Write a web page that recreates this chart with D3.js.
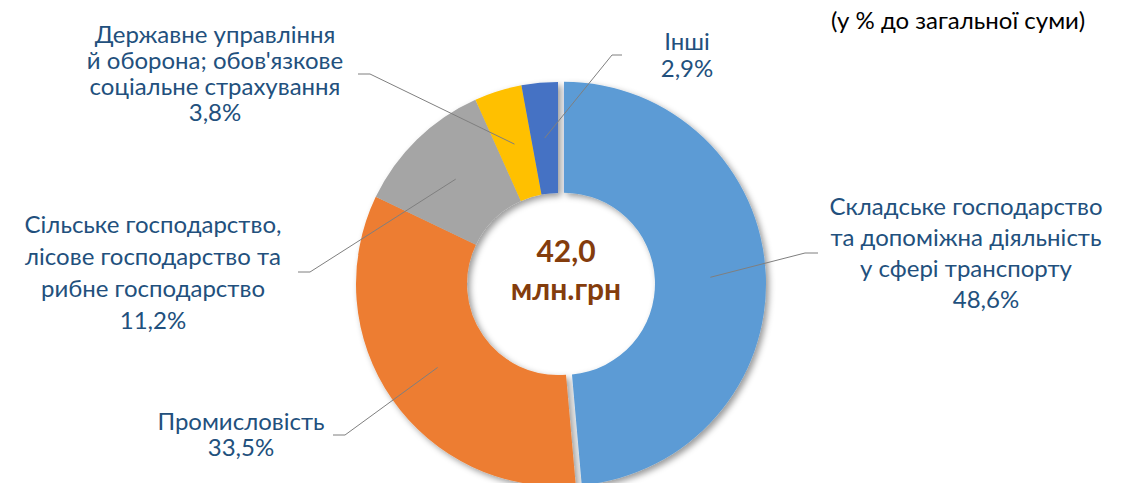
<!DOCTYPE html>
<html>
<head>
<meta charset="utf-8">
<script src="https://cdn.jsdelivr.net/npm/d3@7"></script>
<style>
  body { margin: 0; background: #fff; }
  svg { display: block; font-family: Lato, "Open Sans", sans-serif; }
</style>
</head>
<body>
<div id="chart"></div>
<script>
// Data
const categories = [
    "Складське господарство та допоміжна діяльність у сфері транспорту",
    "Промисловість",
    "Сільське господарство, лісове господарство та рибне господарство",
    "Державне управління й оборона; обов'язкове соціальне страхування",
    "Інші"
];
const shares = [48.6, 33.5, 11.2, 3.8, 2.9];
const valueLabels = ["48,6%", "33,5%", "11,2%", "3,8%", "2,9%"];
// label text split into lines as in the original
const labelLines = [
    ["Складське господарство", "та допоміжна діяльність", "у сфері транспорту"],
    ["Промисловість"],
    ["Сільське господарство,", "лісове господарство та", "рибне господарство"],
    ["Державне управління", "й оборона; обов'язкове", "соціальне страхування"],
    ["Інші"]
];
const totalLabel = ["42,0", "млн.грн"];
const unitNote = "(у % до загальної суми)";

const colors = ["#5B9BD5", "#ED7D31", "#A5A5A5", "#FFC000", "#4472C4"];

// Dimensions
let dimensions = {
    width: 1127,
    height: 483,
    cx: 558,
    cy: 284,
    outerRadius: 202,
    innerRadius: 91,
    explode: 6
};

// label layout: elbow point, end of leader, text anchor, first baseline, line step
const labelLayout = [
    { elbow: [805, 253], end: [818, 253], x: 966, y: 215, step: 31, pctX: 986 },
    { elbow: [345, 435], end: [333, 435], x: 241, y: 430, step: 26 },
    { elbow: [310, 272], end: [298, 272], x: 153, y: 233, step: 32 },
    { elbow: [370, 74], end: [358, 74], x: 215, y: 43, step: 26 },
    { elbow: [612, 55], end: [622, 55], x: 687, y: 50, step: 27 }
];

const svg = d3.select("#chart")
    .append("svg")
    .attr("width", dimensions.width)
    .attr("height", dimensions.height);

const defs = svg.append("defs");
const filter = defs.append("filter")
    .attr("id", "shadow")
    .attr("x", "-20%").attr("y", "-20%")
    .attr("width", "140%").attr("height", "140%");
filter.append("feDropShadow")
    .attr("dx", 3)
    .attr("dy", 3)
    .attr("stdDeviation", 3)
    .attr("flood-color", "#000")
    .attr("flood-opacity", 0.4);

const pie = d3.pie()
    .sort(null)
    .value(d => d);

const arcs = pie(shares);

const arc = d3.arc()
    .innerRadius(dimensions.innerRadius)
    .outerRadius(dimensions.outerRadius);

// offset of a slice (only the first one is pulled out)
function offset(d, i) {
    if (i !== 0) return [0, 0];
    const a = (d.startAngle + d.endAngle) / 2;
    return [Math.sin(a) * dimensions.explode, -Math.cos(a) * dimensions.explode];
}

const container = svg.append("g")
    .attr("transform", `translate(${dimensions.cx}, ${dimensions.cy})`);

container.append("g")
    .attr("filter", "url(#shadow)")
    .selectAll("path")
    .data(arcs)
    .join("path")
        .attr("fill", (d, i) => colors[i])
        .attr("transform", (d, i) => `translate(${offset(d, i)})`)
        .attr("d", arc);

// Leader lines
container.append("g")
    .selectAll("polyline")
    .data(arcs)
    .join("polyline")
        .attr("fill", "none")
        .attr("stroke", "#7F7F7F")
        .attr("stroke-width", 1)
        .attr("points", (d, i) => {
            const c = arc.centroid(d);
            const o = offset(d, i);
            const l = labelLayout[i];
            return [
                [c[0] + o[0], c[1] + o[1]],
                [l.elbow[0] - dimensions.cx, l.elbow[1] - dimensions.cy],
                [l.end[0] - dimensions.cx, l.end[1] - dimensions.cy]
            ].join(" ");
        });

// Labels
const labels = svg.append("g")
    .attr("fill", "#22507D")
    .attr("font-size", 24)
    .attr("text-anchor", "middle");

arcs.forEach((d, i) => {
    const l = labelLayout[i];
    const lines = labelLines[i];
    const t = labels.append("text");
    lines.forEach((line, j) => {
        t.append("tspan")
            .attr("x", l.x)
            .attr("y", l.y + j * l.step)
            .text(line);
    });
    t.append("tspan")
        .attr("x", l.pctX || l.x)
        .attr("y", l.y + lines.length * l.step)
        .text(valueLabels[i]);
});

// Centre total
svg.append("g")
    .attr("fill", "#843C0C")
    .attr("font-weight", "bold")
    .attr("font-size", 30)
    .attr("text-anchor", "middle")
    .selectAll("text")
    .data(totalLabel)
    .join("text")
        .attr("x", dimensions.cx + 8)
        .attr("y", (d, i) => 262 + i * 38)
        .text(d => d);

// Unit note
svg.append("text")
    .attr("x", 958)
    .attr("y", 29)
    .attr("text-anchor", "middle")
    .attr("font-size", 24)
    .attr("fill", "#000")
    .text(unitNote);
</script>
</body>
</html>
